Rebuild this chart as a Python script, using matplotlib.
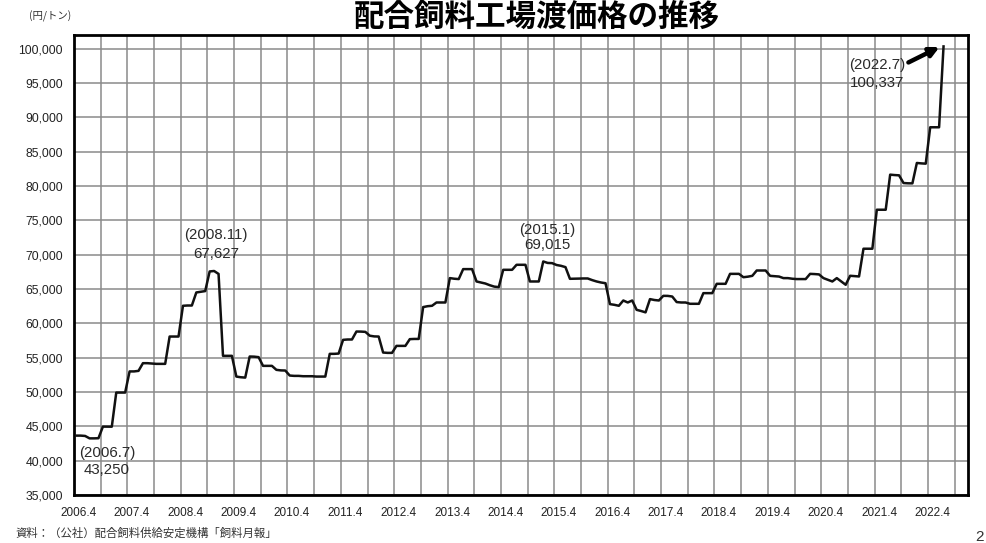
import matplotlib
matplotlib.use("Agg")
import matplotlib.pyplot as plt
import numpy as np

# Monthly price (yen/ton), starting 2006.4, ending 2022.7
prices = [
    43650, 43650, 43600, 43250, 43250, 43270,   # 2006.4-2006.9
    44960, 44960, 44950, 49920, 49920, 49920,   # 2006.10-2007.3
    53000, 53000, 53080, 54200, 54200, 54150,   # 2007.4-2007.9
    54100, 54100, 54100, 58080, 58080, 58080,   # 2007.10-2008.3
    62560, 62600, 62600, 64500, 64600, 64700,   # 2008.4-2008.9
    67560, 67627, 67200, 55270, 55270, 55270,   # 2008.10-2009.3
    52250, 52150, 52100, 55170, 55150, 55080,   # 2009.4-2009.9
    53810, 53810, 53810, 53230, 53150, 53130,   # 2009.10-2010.3
    52400, 52350, 52350, 52300, 52300, 52300,   # 2010.4-2010.9
    52250, 52250, 52250, 55560, 55560, 55600,   # 2010.10-2011.3
    57600, 57650, 57650, 58810, 58800, 58760,   # 2011.4-2011.9
    58200, 58100, 58080, 55750, 55700, 55700,   # 2011.10-2012.3
    56720, 56720, 56720, 57700, 57730, 57730,   # 2012.4-2012.9
    62370, 62500, 62560, 63040, 63040, 63040,   # 2012.10-2013.3
    66590, 66500, 66450, 67900, 67900, 67900,   # 2013.4-2013.9
    66100, 65950, 65800, 65550, 65350, 65280,   # 2013.10-2014.3
    67800, 67800, 67800, 68530, 68530, 68530,   # 2014.4-2014.9
    66100, 66100, 66100, 69015, 68800, 68770,   # 2014.10-2015.3
    68500, 68380, 68190, 66490, 66500, 66520,   # 2015.4-2015.9
    66540, 66540, 66300, 66100, 65950, 65850,   # 2015.10-2016.3
    62800, 62700, 62560, 63330, 63040, 63330,   # 2016.4-2016.9
    61970, 61800, 61600, 63530, 63400, 63330,   # 2016.10-2017.3
    64010, 64000, 63910, 63100, 63040, 63040,   # 2017.4-2017.9
    62850, 62850, 62850, 64400, 64400, 64400,   # 2017.10-2018.3
    65760, 65760, 65760, 67210, 67210, 67210,   # 2018.4-2018.9
    66720, 66800, 66920, 67700, 67700, 67700,   # 2018.10-2019.3
    66920, 66870, 66820, 66590, 66590, 66500,   # 2019.4-2019.9
    66450, 66450, 66450, 67210, 67180, 67130,   # 2019.10-2020.3
    66590, 66350, 66100, 66590, 66100, 65620,   # 2020.4-2020.9
    66930, 66880, 66830, 70870, 70870, 70870,   # 2020.10-2021.3
    76550, 76550, 76550, 81660, 81600, 81560,   # 2021.4-2021.9
    80440, 80400, 80390, 83360, 83300, 83260,   # 2021.10-2022.3
    88560, 88560, 88560, 100337,                # 2022.4-2022.7
]

year_labels = [f"{y}.4" for y in range(2006, 2023)]
y_ticks = list(range(35000, 100001, 5000))

annotations = [
    ("(2006.7)", "43,250", 7.4, 41120, 38650),
    ("(2008.11)", "67,627", 31.9, 72910, 70140),
    ("(2015.1)", "69,015", 106.4, 73640, 71380),
    ("(2022.7)", "100,337", 180.5, 97690, 95070),
]

fig = plt.figure(figsize=(9.86, 5.43), dpi=100)
ax = fig.add_axes([74 / 986, 48 / 543, 894 / 986, 460 / 543])

x = np.arange(len(prices)) + 0.5
ax.plot(x, prices, color="#111111", lw=1.8, solid_joinstyle="round", zorder=3)

ax.set_xlim(0, 201)
ax.set_ylim(35000, 102000)

# grid
ax.set_xticks(np.arange(0, 199, 6), minor=True)
ax.set_xticks(np.arange(len(year_labels)) * 12 + 1)
ax.set_xticklabels(year_labels, fontsize=8.5, family="Liberation Sans", color="#222222")
ax.set_yticks(y_ticks)
ax.set_yticklabels([f"{v:,}" for v in y_ticks], fontsize=8.8, family="Liberation Sans", color="#222222")
ax.grid(True, which="minor", axis="x", color="#8a8a8a", lw=1.1)
ax.grid(True, which="major", axis="y", color="#8a8a8a", lw=1.1)
ax.grid(False, which="major", axis="x")
ax.tick_params(axis="both", which="both", length=0)
ax.tick_params(axis="x", pad=9)
ax.tick_params(axis="y", pad=8)
for s in ax.spines.values():
    s.set_linewidth(2.0)
    s.set_color("black")
ax.set_axisbelow(True)

for l1, l2, xa, y1, y2 in annotations:
    ax.text(xa, y1, l1, ha="center", va="center", fontsize=10.8,
            family="Liberation Sans", color="#2a2a2a")
    ax.text(xa, y2, l2, ha="center", va="center", fontsize=10.8,
            family="Liberation Sans", color="#2a2a2a")

ax.annotate("", xy=(194.6, 100250), xytext=(187.6, 98000),
            arrowprops=dict(arrowstyle="-|>", color="black", lw=3.2,
                            mutation_scale=14, shrinkA=0, shrinkB=0))

fig.text(0.544, 1 - 1 / 543, "配合飼料工場渡価格の推移", ha="center", va="top",
         fontsize=22, fontweight="bold", family=["Noto Sans CJK JP"], color="black")
fig.text(50 / 986, 1 - 16 / 543, "(円/トン)", ha="center", va="center",
         fontsize=7.5, family=["Noto Sans CJK JP"], color="#333333")
fig.text(15 / 986, 1 - 533 / 543, "資料：（公社）配合飼料供給安定機構「飼料月報」", ha="left",
         va="center", fontsize=8.2, family=["Noto Sans CJK JP"], color="#333333")
fig.text(975 / 986, 1 - 537 / 543, "2", ha="left", va="center",
         fontsize=11, family="Liberation Sans", color="#333333")

fig.savefig("out.png", dpi=100)
